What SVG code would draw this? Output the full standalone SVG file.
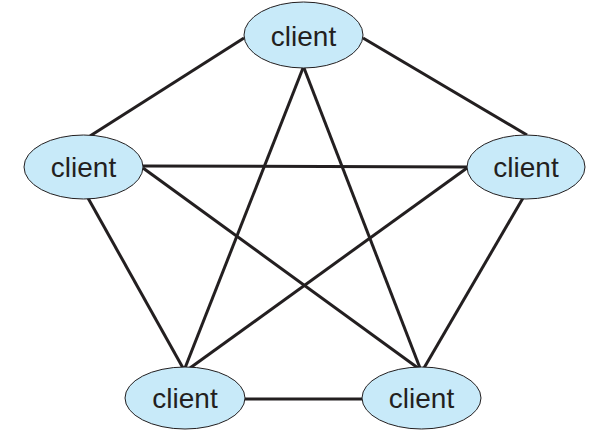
<svg xmlns="http://www.w3.org/2000/svg" width="611" height="439" viewBox="0 0 611 439">
<style>
.node ellipse{fill:#c8eaf9;stroke:#231f20;stroke-width:1}
.node text{font-family:"Liberation Sans",Arial,sans-serif;font-size:28px;fill:#231f20;text-anchor:middle}
#connectors line{stroke:#231f20;stroke-width:3;stroke-linecap:butt}
</style>
<rect width="611" height="439" fill="#ffffff"/>
<g id="connectors">
<line x1="244" y1="38" x2="90" y2="136"/>
<line x1="363" y1="38" x2="527" y2="135"/>
<line x1="303" y1="68" x2="185" y2="368"/>
<line x1="304" y1="68" x2="420" y2="368"/>
<line x1="143" y1="166" x2="467" y2="167"/>
<line x1="143" y1="168" x2="418" y2="368"/>
<line x1="88" y1="198" x2="183" y2="368"/>
<line x1="467" y1="168" x2="190" y2="368"/>
<line x1="523" y1="198" x2="424" y2="368"/>
<line x1="245" y1="399" x2="362" y2="399"/>
</g>
<g id="client-top" class="node">
<ellipse cx="303.5" cy="35" rx="59.5" ry="33"/>
<text x="303.5" y="46">client</text>
</g>
<g id="client-left" class="node">
<ellipse cx="83.5" cy="167" rx="59.5" ry="32"/>
<text x="83.5" y="177">client</text>
</g>
<g id="client-right" class="node">
<ellipse cx="526" cy="167" rx="59" ry="32"/>
<text x="526" y="177">client</text>
</g>
<g id="client-bottom-left" class="node">
<ellipse cx="185" cy="398" rx="60" ry="31"/>
<text x="185" y="408">client</text>
</g>
<g id="client-bottom-right" class="node">
<ellipse cx="421.5" cy="398" rx="59.5" ry="31"/>
<text x="421.5" y="408">client</text>
</g>
</svg>
